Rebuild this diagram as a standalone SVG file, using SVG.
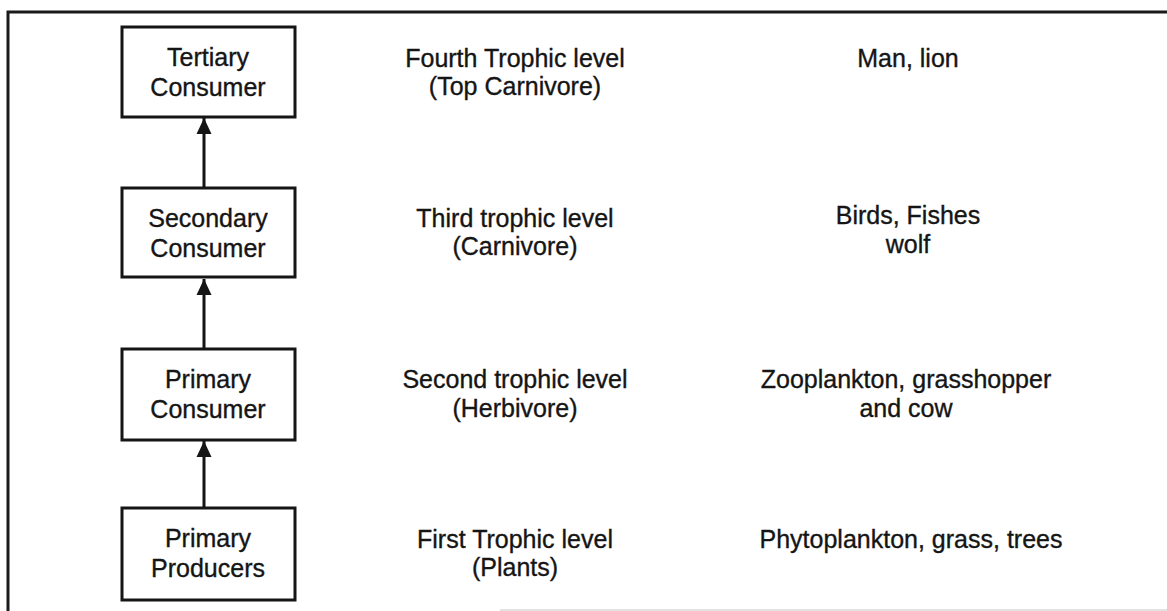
<svg xmlns="http://www.w3.org/2000/svg" width="1167" height="611" viewBox="0 0 1167 611">
<style>
text{font-family:"Liberation Sans",Arial,Helvetica,sans-serif;font-size:25px;fill:#151515;stroke:#151515;stroke-width:0.35;text-anchor:middle}
.box{fill:#fff;stroke:#151515;stroke-width:3}
.conn{stroke:#151515;stroke-width:3;fill:none}
.frame{stroke:#1a1a1a;stroke-width:3;fill:none}
</style>
<defs>
<marker id="ah" markerUnits="userSpaceOnUse" markerWidth="17" markerHeight="17" viewBox="0 0 17 17" refX="16" refY="8.5" orient="auto">
<path d="M0,1 L16,8.5 L0,16 Z" fill="#151515"/>
</marker>
</defs>
<rect width="1167" height="611" fill="#fff"/>
<g id="frame">
<path class="frame" d="M8,611 V12 H1167"/>
<line x1="500" y1="610" x2="1167" y2="610" stroke="#d8d8d8" stroke-width="1.5"/>
</g>
<g id="connectors">
<line class="conn" x1="204" y1="188" x2="204" y2="118" marker-end="url(#ah)"/>
<line class="conn" x1="204" y1="349" x2="204" y2="279" marker-end="url(#ah)"/>
<line class="conn" x1="204" y1="508" x2="204" y2="441" marker-end="url(#ah)"/>
</g>
<g id="tertiary">
<rect class="box" x="122" y="27" width="173" height="90"/>
<text x="208" y="66">Tertiary</text>
<text x="208" y="96">Consumer</text>
</g>
<g id="secondary">
<rect class="box" x="122" y="188" width="173" height="89"/>
<text x="208" y="227">Secondary</text>
<text x="208" y="257">Consumer</text>
</g>
<g id="primary-consumer">
<rect class="box" x="122" y="349" width="173" height="91"/>
<text x="208" y="388">Primary</text>
<text x="208" y="418">Consumer</text>
</g>
<g id="producers">
<rect class="box" x="122" y="508" width="173" height="92"/>
<text x="208" y="547">Primary</text>
<text x="208" y="577">Producers</text>
</g>
<g id="levels">
<text x="515" y="67">Fourth Trophic level</text>
<text x="515" y="95">(Top Carnivore)</text>
<text x="515" y="227">Third trophic level</text>
<text x="515" y="255">(Carnivore)</text>
<text x="515" y="388">Second trophic level</text>
<text x="515" y="417">(Herbivore)</text>
<text x="515" y="548">First Trophic level</text>
<text x="515" y="576">(Plants)</text>
</g>
<g id="examples">
<text x="908" y="67">Man, lion</text>
<text x="908" y="224">Birds, Fishes</text>
<text x="908" y="253">wolf</text>
<text x="906" y="388">Zooplankton, grasshopper</text>
<text x="906" y="417">and cow</text>
<text x="911" y="548">Phytoplankton, grass, trees</text>
</g>
</svg>
